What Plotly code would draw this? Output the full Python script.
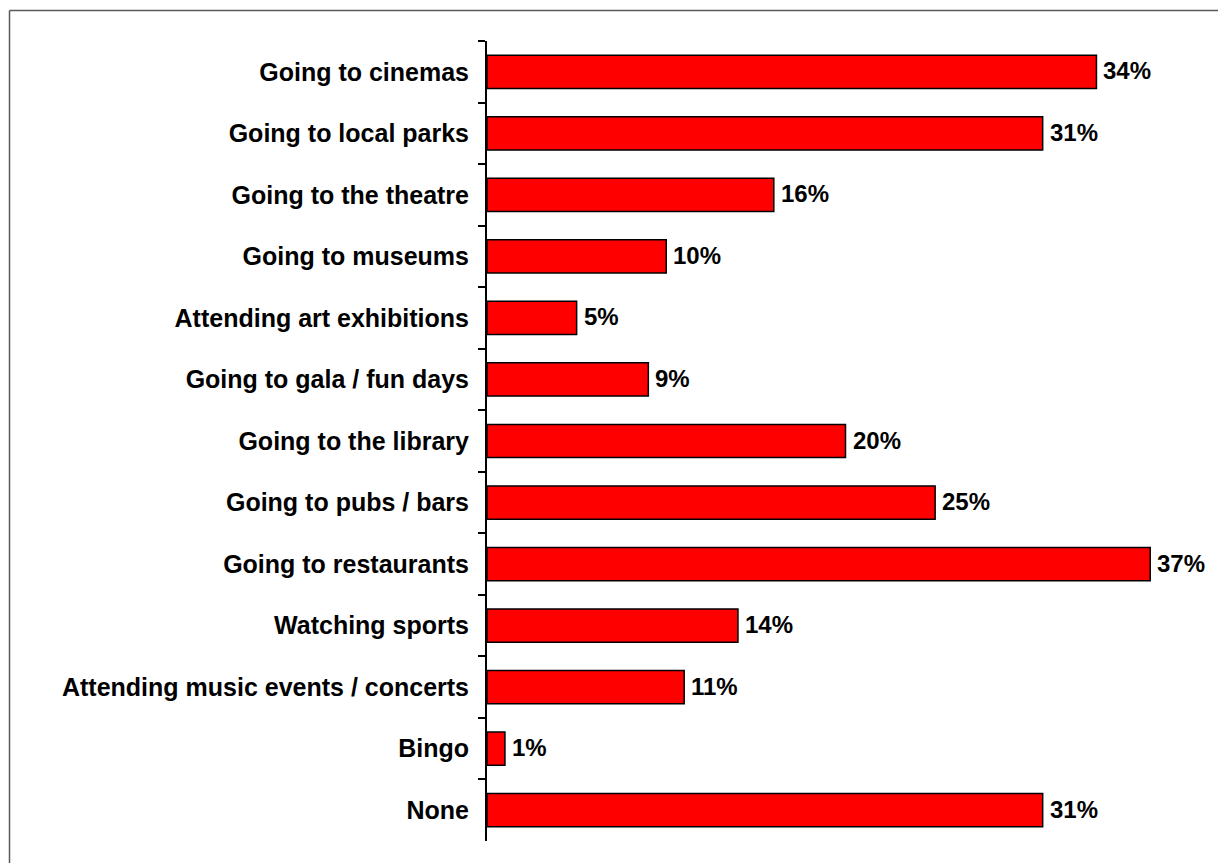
import plotly.graph_objects as go

categories = [
    "Going to cinemas",
    "Going to local parks",
    "Going to the theatre",
    "Going to museums",
    "Attending art exhibitions",
    "Going to gala / fun days",
    "Going to the library",
    "Going to pubs / bars",
    "Going to restaurants",
    "Watching sports",
    "Attending music events / concerts",
    "Bingo",
    "None",
]
values = [34, 31, 16, 10, 5, 9, 20, 25, 37, 14, 11, 1, 31]
value_labels = [f"{v}%" for v in values]

# page body has an 8px margin, so the figure sits at (8, 8)
OFF = 8
W, H = 1226, 863
ML, MT = 487 - OFF, 41 - OFF
PR, PB = 1204 - OFF, 841 - OFF  # plot right / bottom in figure px
MR, MB = W - PR, H - PB
FONT = "Liberation Sans, Arial, sans-serif"

fig = go.Figure()
fig.add_trace(go.Bar(
    y=categories,
    x=values,
    orientation="h",
    marker=dict(color="#FF0000", line=dict(color="#000000", width=1.5)),
    width=0.54,
    hoverinfo="skip",
))

for c, v, t in zip(categories, values, value_labels):
    fig.add_annotation(
        x=v, y=c, xref="x", yref="y", text=f"<b>{t}</b>",
        showarrow=False, xanchor="left", yanchor="middle", xshift=5, yshift=1,
        font=dict(family=FONT, size=24, color="#000000"),
    )

pw = W - ML - MR
ph = H - MT - MB
bx = (9.5 - OFF - ML) / pw
by = 1 + (MT - (10.5 - OFF)) / ph
fig.add_shape(type="line", xref="paper", yref="paper", x0=bx, x1=bx, y0=by, y1=-0.2,
              line=dict(color="#5a5a5a", width=1.5))
fig.add_shape(type="line", xref="paper", yref="paper", x0=bx, x1=1.2, y0=by, y1=by,
              line=dict(color="#5a5a5a", width=1.5))

fig.update_layout(
    width=W, height=H,
    margin=dict(l=ML, r=MR, t=MT, b=MB, autoexpand=False),
    paper_bgcolor="white", plot_bgcolor="white",
    showlegend=False,
    xaxis=dict(range=[0, 40], visible=False, fixedrange=True),
    yaxis=dict(
        categoryorder="array", categoryarray=categories, autorange="reversed",
        showline=True, linecolor="#000000", linewidth=2,
        ticks="outside", tickson="boundaries", ticklen=7, tickwidth=2, tickcolor="#000000",
        tickfont=dict(family=FONT, size=25, color="#000000"),
        ticklabelstandoff=11,
        showgrid=False, zeroline=False,
        tickprefix="<b>", ticksuffix="</b>",
    ),
)
fig.write_html("out.html")
